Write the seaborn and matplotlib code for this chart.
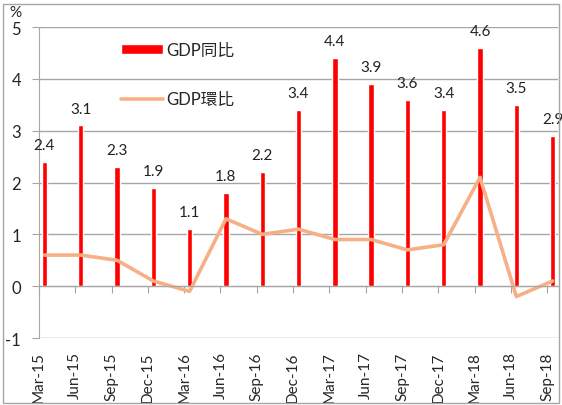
import matplotlib
matplotlib.use('Agg')
import matplotlib.pyplot as plt
import seaborn as sns
import numpy as np
import pandas as pd

quarters = ['Mar-15', 'Jun-15', 'Sep-15', 'Dec-15', 'Mar-16', 'Jun-16', 'Sep-16',
            'Dec-16', 'Mar-17', 'Jun-17', 'Sep-17', 'Dec-17', 'Mar-18', 'Jun-18', 'Sep-18']
gdp_yoy = [2.4, 3.1, 2.3, 1.9, 1.1, 1.8, 2.2, 3.4, 4.4, 3.9, 3.6, 3.4, 4.6, 3.5, 2.9]
gdp_qoq = [0.6, 0.6, 0.5, 0.1, -0.1, 1.3, 1.0, 1.1, 0.9, 0.9, 0.7, 0.8, 2.1, -0.2, 0.1]

sns.set_style('white')
plt.rcParams['font.family'] = ['Lato', 'Noto Sans CJK TC', 'DejaVu Sans']
plt.rcParams['axes.unicode_minus'] = False

df = pd.DataFrame({'q': quarters, 'yoy': gdp_yoy, 'qoq': gdp_qoq})
df['pos'] = np.arange(len(df))

fig = plt.figure(figsize=(5.62, 4.06), dpi=100)
ax = fig.add_axes([0.0694, 0.165, 0.9236, 0.766])

grey = '#A6A6A6'
sns.barplot(data=df, x='pos', y='yoy', color='#FF0000', width=0.15,
            saturation=1, ax=ax, label='GDP同比', native_scale=True)
sns.lineplot(data=df, x='pos', y='qoq', color='#F7B085', linewidth=2.6,
             ax=ax, label='GDP環比')

for p, v in zip(df['pos'], df['yoy']):
    ax.annotate(f'{v:.1f}', (p, v), xytext=(0, 7), textcoords='offset points',
                ha='center', va='bottom', fontsize=11, color='#222222')

# category axis sits on y = 0, labels hang below the -1 gridline
ax.spines['bottom'].set_position(('data', 0))
ax.spines['bottom'].set_color(grey)
ax.spines['left'].set_color(grey)
ax.spines['top'].set_visible(False)
ax.spines['right'].set_visible(False)

ax.set_xlim(-0.12, 14.15)
ax.set_ylim(-1, 5)
ax.set_yticks(range(-1, 6))
ax.yaxis.grid(True, color=grey, linewidth=1)
ax.set_axisbelow(True)

ax.set_xticks(df['pos'] - 0.15)
ax.set_xticklabels(quarters, rotation=90, va='top', ha='center', fontsize=11)
ax.tick_params(axis='x', length=5, color=grey, pad=42, direction='out', bottom=True)
ax.tick_params(axis='y', length=5, color=grey, labelsize=12, pad=8, left=True)
ax.set_xlabel('')
ax.set_ylabel('')

fig.text(0.027, 0.968, '%', fontsize=11, ha='center', va='center')

handles, labels = ax.get_legend_handles_labels()
order = [labels.index('GDP同比'), labels.index('GDP環比')]
ax.legend([handles[i] for i in order], [labels[i] for i in order],
          loc='upper left', bbox_to_anchor=(0.13, 1.0), frameon=False,
          handlelength=2.5, handleheight=0.6, labelspacing=2.0,
          fontsize=12, handletextpad=0.2)

fig.add_artist(plt.Rectangle((0.005, 0.004), 0.99, 0.984, transform=fig.transFigure,
                             fill=False, edgecolor=grey, linewidth=1))

fig.savefig('out.png', dpi=100)
